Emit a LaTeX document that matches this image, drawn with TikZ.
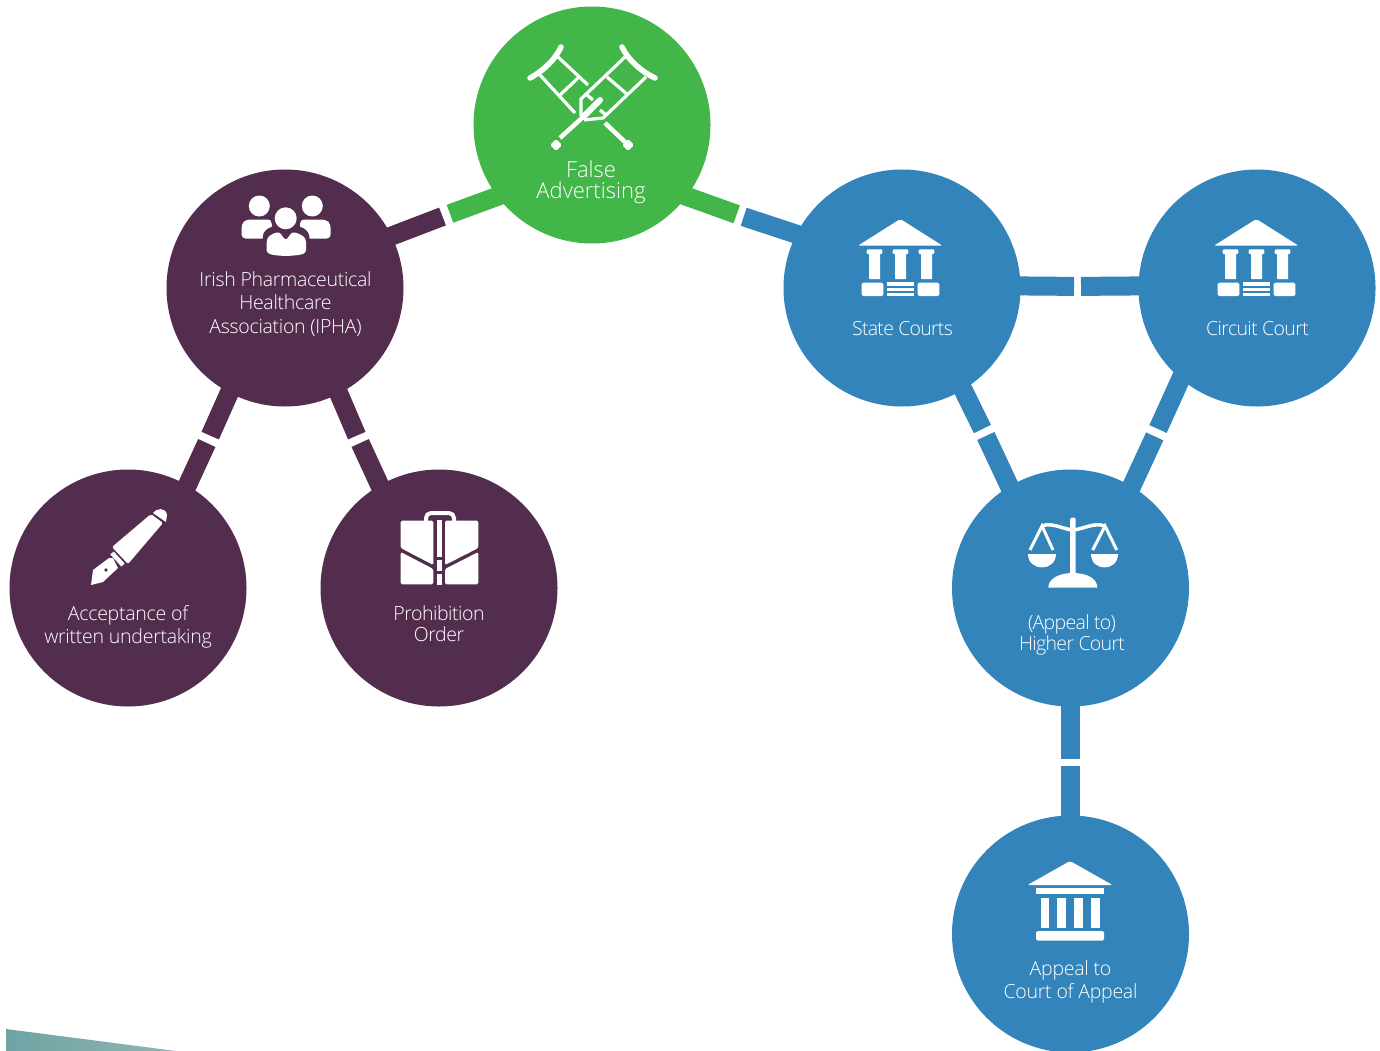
\documentclass[tikz,border=0pt]{standalone}
\usepackage{fontspec}
\setmainfont{Open Sans Light}
\definecolor{plum}{HTML}{532D4D}
\definecolor{leaf}{HTML}{43B649}
\definecolor{court}{HTML}{3284BA}
\definecolor{tealA}{HTML}{6FA3A3}
\definecolor{tealB}{HTML}{8FB5B3}
\tikzset{
  hub/.style={circle,minimum size=237pt,inner sep=0pt,fill=#1},
  lab/.style={text=white,align=center,inner sep=0pt,font=\fontsize{19.5}{22.5}\selectfont\addfontfeature{LetterSpace=#1}},
  link/.style={line width=19pt,draw=#1,shorten <=-14pt},
  iconline/.style={draw=white,line width=#1},
}
\begin{document}
\begin{tikzpicture}[x=1pt,y=-1pt]
\useasboundingbox (0,0) rectangle (1380,1051);
% gap coordinates
\coordinate (g1a) at (442.5,216.5);\coordinate (g1b) at (450,213.8);
\coordinate (g2a) at (736.7,214.3);\coordinate (g2b) at (743.7,216.8);
\coordinate (g3a) at (1074,286.4);\coordinate (g3b) at (1081,286.4);
\coordinate (g4a) at (982.4,429);\coordinate (g4b) at (985.8,436);
\coordinate (g5a) at (1158,429);\coordinate (g5b) at (1154.7,436.4);
\coordinate (g6a) at (1070.5,758.5);\coordinate (g6b) at (1070.5,765.5);
\coordinate (g7a) at (210.2,435.6);\coordinate (g7b) at (206.8,443);
\coordinate (g8a) at (356.8,435.6);\coordinate (g8b) at (360.2,443);
% circles
\node[hub=leaf] (fa) at (592,125) {};
\node[hub=plum] (ip) at (285,288) {};
\node[hub=plum] (au) at (128,588) {};
\node[hub=plum] (po) at (439,588) {};
\node[hub=court] (sc) at (902,288) {};
\node[hub=court] (cc) at (1257,288) {};
\node[hub=court] (hc) at (1070.5,588) {};
\node[hub=court] (ca) at (1070.5,934) {};
% connectors
\draw[link=leaf] (fa.217) -- (g1b);
\draw[link=plum] (ip.26) -- (g1a);
\draw[link=leaf] (fa.-37) -- (g2a);
\draw[link=court] (sc.153) -- (g2b);
\draw[link=court] (sc.1) -- (g3a);
\draw[link=court] (cc.179) -- (g3b);
\draw[link=court] (sc.-59) -- (g4a);
\draw[link=court] (hc.121) -- (g4b);
\draw[link=court] (cc.230) -- (g5a);
\draw[link=court] (hc.59) -- (g5b);
\draw[link=court] (hc.-90) -- (g6a);
\draw[link=court] (ca.90) -- (g6b);
\draw[link=plum] (ip.242) -- (g7a);
\draw[link=plum] (au.60) -- (g7b);
\draw[link=plum] (ip.-63) -- (g8a);
\draw[link=plum] (po.120) -- (g8b);
% labels
\node[lab=0,font=\fontsize{22}{21}\selectfont] (t1) at (591,182) {False\\Advertising};
\node[lab=-1.5] (t2) at (285.5,304) {Irish Pharmaceutical\\[1pt]Healthcare\\[1pt]Association (IPHA)};
\node[lab=-1.3] (t3) at (128,626.7) {Acceptance of\\[1pt]written undertaking};
\node[lab=-2.3] (t4) at (439,623.7) {Prohibition\\[-2pt]Order};
\node[lab=-3.8] (t5) at (902.5,329) {State Courts};
\node[lab=-3.3] (t6) at (1257.5,329) {Circuit Court};
\node[lab=-3.4] (t7) at (1072,634.8) {(Appeal to)\\[-1.5pt]Higher Court};
\node[lab=-1.3] (t8) at (1070.5,981.8) {Appeal to\\[0pt]Court of Appeal};
% teal wedge
\shade[left color=tealA,right color=tealB] (6,1029) -- (176,1051) -- (6,1051) -- cycle;
% crutches
\draw[white,line width=5.5pt,line cap=round] (530,78) .. controls (543,71) and (555,60) .. (561,47);
\draw[iconline=3.2pt] (540,75) -- (575,113);
\draw[iconline=3.2pt] (558,57) -- (588,85);
\draw[iconline=3.2pt] (560,95) -- (578,78);
\draw[iconline=4.5pt] (605,123) -- (625,142);
\fill[white,rounded corners=1.5pt] (556,139) -- (562,145) -- (556,151) -- (550,145) -- cycle;
\fill[white,rounded corners=1.5pt] (628,139) -- (634,145) -- (628,151) -- (622,145) -- cycle;
\draw[white,line width=5.5pt,line cap=round] (655,78) .. controls (642,72) and (628,60) .. (622,47);
\draw[iconline=3.2pt] (646,77) -- (603,118) -- (584,120);
\draw[iconline=3.2pt] (625,57) -- (581,99) -- (581,116);
\draw[iconline=3.2pt] (607,77) -- (628,95);
\draw[iconline=3.2pt] (587,95) -- (593,100);
\draw[iconline=3.2pt] (600,110) -- (606,115);
\draw[iconline=4.5pt] (560,138) -- (583,117);
\draw[iconline=6pt,line cap=round] (583,117) -- (600,100);
% people icon
\fill[white] (259.3,206) circle (10.5);
\fill[white] (312.3,206) circle (10.5);
\fill[white,rounded corners=4pt] (241.5,238.5) -- (241.5,224) -- (246,219.5) -- (272,219.5) -- (272,232) -- (266,238.5) -- cycle;
\fill[white,rounded corners=4pt] (330.7,238.5) -- (330.7,224) -- (326,219.5) -- (300,219.5) -- (300,232) -- (306,238.5) -- cycle;
\fill[plum] (285.7,218.3) circle (15);
\fill[plum,rounded corners=4pt] (262.5,246) -- (263,232) -- (272,226) -- (300,226) -- (309,232) -- (310,246) -- cycle;
\fill[white] (285.7,218.3) circle (11);
\fill[white,rounded corners=3pt] (266.7,253) -- (266.7,239) -- (270,235) -- (279,231.5) -- (285.7,240.7) -- (292.5,231.5) -- (302,235) -- (306,239) -- (306,253) .. controls (295,256.5) and (277,256.5) .. (266.7,253) -- cycle;
% pen icon
\fill[white,rounded corners=2pt] (112,547) -- (151,514) -- (163,523) -- (128,564) -- cycle;
\fill[white] (153,513) .. controls (156,508) and (166,507) .. (167,515) -- (166,522) -- cycle;
\draw[white,line width=4.5pt] (112,553) -- (123,565);
\fill[white] (109,558) -- (93,570) -- (91,585) -- (103,582) -- (118,568) -- (113,558) -- cycle;
\fill[plum] (106,570) circle (1.8);
% briefcase icon
\draw[white,line width=4pt,rounded corners=5pt] (426,521) -- (426,513) -- (454,513) -- (454,521);
\fill[white,rounded corners=1.5pt] (400.7,520.7) -- (433.3,520.7) -- (433.3,565) -- (400.7,548) -- cycle;
\fill[white,rounded corners=1.5pt] (400.7,552) -- (433.3,569) -- (433.3,584.3) -- (400.7,584.3) -- cycle;
\fill[white,rounded corners=1.5pt] (478.3,520.7) -- (445,520.7) -- (445,565) -- (478.3,548) -- cycle;
\fill[white,rounded corners=1.5pt] (478.3,552) -- (445,569) -- (445,584.3) -- (478.3,584.3) -- cycle;
\fill[white] (436.5,520) rectangle (441.5,557);
\fill[white] (436.5,560) rectangle (441.5,571);
\fill[white] (436.5,573.5) rectangle (441.5,585);
% courthouse icons with steps
\foreach \dx in {0,356}{
 \begin{scope}[xshift=\dx pt]
 \fill[white,rounded corners=2pt] (858,245.7) -- (900.3,219) -- (942.5,245.7) -- cycle;
 \foreach \px in {869,895,921}{
  \fill[white,rounded corners=1pt] (\px-2.3,249.3) rectangle (\px+13.3,254);
  \fill[white,rounded corners=.5pt] (\px,253) rectangle (\px+11,279);
 }
 \fill[white,rounded corners=1.5pt] (861.7,282.7) rectangle (883.3,296);
 \fill[white,rounded corners=1.5pt] (917.7,282.7) rectangle (939.3,296);
 \fill[white] (886.7,282.3) rectangle (914,286);
 \fill[white] (886.7,287.7) rectangle (914,291);
 \fill[white] (886.7,292.7) rectangle (914,296);
 \end{scope}
}
% scales icon
\fill[white,rounded corners=1.5pt] (1070,517.7) rectangle (1075.7,576);
\fill[white] (1048.3,587.7) .. controls (1048.3,578) and (1060,573) .. (1073,573) .. controls (1086,573) and (1097.3,578) .. (1097.3,587.7) -- cycle;
\draw[iconline=3.5pt] (1042,526) .. controls (1052,522) and (1062,529) .. (1073,530) .. controls (1084,529) and (1094,522) .. (1105,526);
\draw[iconline=3pt] (1030,550) -- (1042,526) -- (1053,550);
\draw[iconline=3pt] (1092.7,550) -- (1105,526) -- (1116.7,550);
\fill[white] (1028.3,554) .. controls (1028.3,572) and (1056,572) .. (1056,554) -- cycle;
\fill[white] (1090.7,554) .. controls (1090.7,572) and (1118.3,572) .. (1118.3,554) -- cycle;
% appeal court icon
\fill[white,rounded corners=2pt] (1027.5,885) -- (1070,861) -- (1112.5,885) -- cycle;
\fill[white] (1036,887.7) rectangle (1104,894.3);
\foreach \px in {1040.7,1057.4,1074.4,1091.4}{\fill[white] (\px,897.7) rectangle (\px+8.2,927.7);}
\fill[white,rounded corners=1.5pt] (1036,931) rectangle (1104,940.7);
\end{tikzpicture}
\end{document}
